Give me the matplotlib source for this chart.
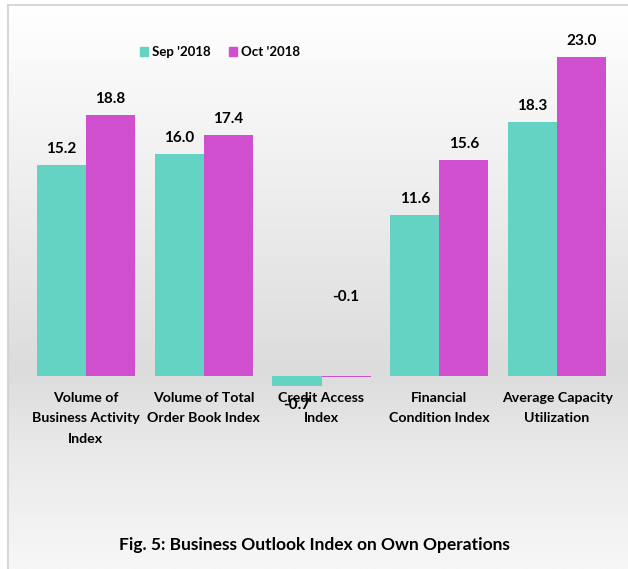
import matplotlib.pyplot as plt
import numpy as np
from matplotlib.patches import Patch
from matplotlib.colors import LinearSegmentedColormap

plt.rcParams["font.family"] = ["Lato", "DejaVu Sans"]
plt.rcParams["font.weight"] = "bold"

categories = ["Volume of\nBusiness Activity\nIndex", "Volume of Total\nOrder Book Index",
              "Credit Access\nIndex", "Financial\nCondition Index",
              "Average Capacity\nUtilization"]
sep_2018 = [15.2, 16.0, -0.7, 11.6, 18.3]
oct_2018 = [18.8, 17.4, -0.1, 15.6, 23.0]
series_names = ["Sep '2018", "Oct '2018"]

TEAL = "#64D3C4"
MAGENTA = "#CF4FCF"

W, H = 628, 569
fig = plt.figure(figsize=(W / 100, H / 100), dpi=100)
fig.patch.set_facecolor("white")

# background panel with vertical gradient
bg = fig.add_axes([8 / W, 0, 1 - 8 / W, 1 - 5 / H])
grad_cmap = LinearSegmentedColormap.from_list(
    "bg", [(0.0, "#FFFFFF"), (0.25, "#F2F2F2"), (0.65, "#DCDCDC"), (0.8, "#EAEAEA"), (1.0, "#F7F7F7")])
bg.imshow(np.linspace(0, 1, 256)[:, None], aspect="auto", cmap=grad_cmap,
          extent=[0, 1, 0, 1], origin="upper")
bg.set_xlim(0, 1)
bg.set_ylim(0, 1)
bg.axis("off")
fig.add_artist(plt.Line2D([8 / W, 8 / W], [0, 1 - 5 / H], color="#D0D0D0", lw=1.2))
fig.add_artist(plt.Line2D([8 / W, 1], [1 - 5 / H, 1 - 5 / H], color="#D0D0D0", lw=1.2))

# main axes: zero at y=376px, 23.0 at y=57px
ppu = (376 - 57) / 23.0
ylo, yhi = -1.5, 24.5
ax_bottom = 376 + (-ylo) * ppu
ax_top = 57 - (yhi - 23.0) * ppu
ax = fig.add_axes([27 / W, 1 - ax_bottom / H, 589 / W, (ax_bottom - ax_top) / H])
ax.set_facecolor("none")
ax.set_xlim(-0.5, 4.5)
ax.set_ylim(ylo, yhi)
ax.axis("off")

x = np.arange(len(categories))
bw = 0.416
ax.bar(x - bw / 2, sep_2018, bw, color=TEAL, zorder=3)
ax.bar(x + bw / 2, oct_2018, bw, color=MAGENTA, zorder=3)

for i in range(len(categories)):
    for xv, v in ((x[i] - bw / 2, sep_2018[i]), (x[i] + bw / 2, oct_2018[i])):
        if v >= 0:
            ax.annotate(f"{v:.1f}", (xv, v), xytext=(0, 9), textcoords="offset pixels",
                        ha="center", va="bottom", fontsize=11, fontweight="bold")
        elif v > -0.5:
            ax.annotate(f"{v:.1f}", (xv, 0), xytext=(0, 72), textcoords="offset pixels",
                        ha="center", va="bottom", fontsize=11, fontweight="bold")
        else:
            ax.annotate(f"{v:.1f}", (xv, v), xytext=(0, -12), textcoords="offset pixels",
                        ha="center", va="top", fontsize=11, fontweight="bold")
    ax.annotate(categories[i], (x[i], 0), xytext=(0, -16), textcoords="offset pixels",
                ha="center", va="top", fontsize=10.2, fontweight="bold",
                multialignment="center", linespacing=1.85)

handles = [Patch(color=TEAL), Patch(color=MAGENTA)]
fig.legend(handles, series_names, loc="center", bbox_to_anchor=(220 / W, 1 - 52 / H),
           ncol=2, frameon=False, handlelength=0.6, handleheight=0.6,
           handletextpad=0.3, columnspacing=1.4, prop={"size": 9.5, "weight": "bold"})

fig.text(314 / W, 1 - 545 / H, "Fig. 5: Business Outlook Index on Own Operations",
         ha="center", va="center", fontsize=12.5, fontweight="bold")

fig.savefig("out.png", dpi=100)
